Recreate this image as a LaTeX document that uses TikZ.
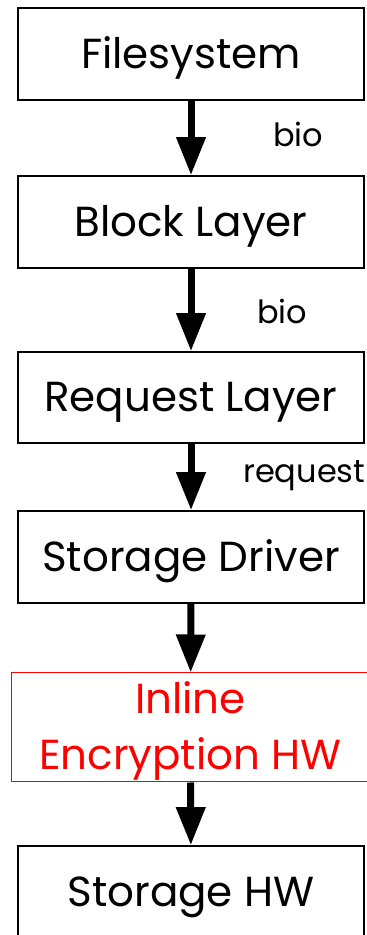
\documentclass[tikz,border=0pt]{standalone}
\usepackage{fontspec}
\setmainfont{Poppins}
\usepackage{tikz}
\usetikzlibrary{arrows.meta,positioning}

\begin{document}
\begin{tikzpicture}[x=1pt, y=1pt,
        box/.style={rectangle, draw=black, line width=1.6pt, minimum width=346pt, minimum height=92pt, align=center, inner sep=0pt, text height=29pt, text depth=0pt, font=\fontsize{42}{56}\selectfont},
        hwbox/.style={box, draw=red, text=red, line width=1pt, minimum width=359pt, minimum height=109pt, text height=85pt},
        arrow/.style={-{Triangle[width=28pt,length=38pt]}, line width=7pt},
        lbl/.style={anchor=base west, inner sep=0pt, font=\fontsize{32}{36}\selectfont}]

        \useasboundingbox (0,0) rectangle (367,935);

        \node[box] (fs) at (191,881) {Filesystem};
        \node[box] (blk) at (191,713) {Block Layer};
        \node[box, minimum height=91pt] (req) at (191,537.5) {Request Layer};
        \node[box] (drv) at (191,378) {Storage Driver};
        \node[hwbox] (enc) at (190.5,207.5) {Inline\\Encryption HW};
        \node[box] (hw) at (191,43) {Storage HW};

        \draw[arrow] (fs) -- (blk);
        \draw[arrow] (blk) -- (req);
        \draw[arrow] (req) -- (drv);
        \draw[arrow] (drv) -- (enc);
        \draw[arrow] (enc) -- (hw);

        \node[lbl] (bio1) at (273,788) {bio};
        \node[lbl] (bio2) at (257,611) {bio};
        \node[lbl] (rq) at (243,452) {request};

    \end{tikzpicture}
\end{document}
